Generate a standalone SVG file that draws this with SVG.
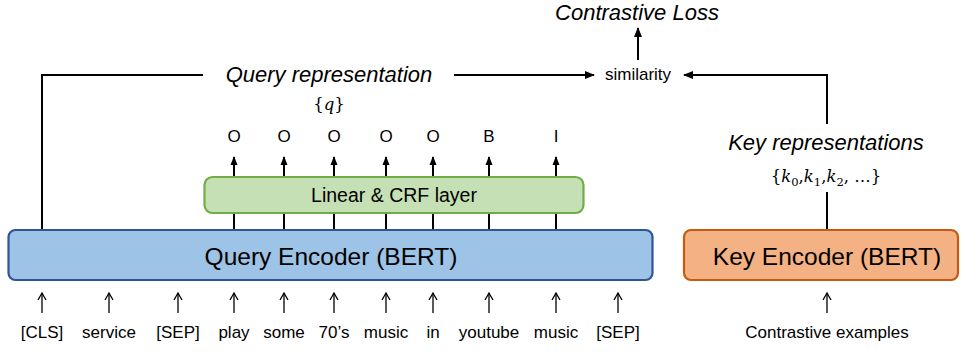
<svg xmlns="http://www.w3.org/2000/svg" width="963" height="354" viewBox="0 0 963 354">
<style>
.t{font-family:"Liberation Sans",Arial,sans-serif;fill:#000}
.it{font-style:italic;font-size:22px}
.tok{font-size:17px}
.lbl{font-size:17px}
.math{font-family:"DejaVu Serif","Liberation Serif",serif;font-size:16.5px;fill:#000}
.c{fill:none;stroke:#000;stroke-width:2}
.thin{fill:none;stroke:#000;stroke-width:1.3}
</style>
<defs>
<marker id="ah" markerUnits="userSpaceOnUse" markerWidth="10" markerHeight="10" refX="9" refY="5" orient="auto">
<path d="M0,1 L10,5 L0,9 z" fill="#000"/>
</marker>
<marker id="ahs" markerUnits="userSpaceOnUse" markerWidth="10" markerHeight="10" refX="8" refY="5" orient="auto">
<path d="M0,1.5 L9,5 L0,8.5 z" fill="#000"/>
</marker>
<marker id="ao" markerUnits="userSpaceOnUse" markerWidth="10" markerHeight="10" refX="7" refY="5" orient="auto">
<path d="M0,1 L7,5 L0,9" fill="none" stroke="#000" stroke-width="1.3"/>
</marker>
</defs>

<g id="connectors">
<polyline class="c" points="42,230 42,75 203,75"/>
<line class="c" x1="454" y1="75" x2="594" y2="75" marker-end="url(#ah)"/>
<line class="c" x1="827" y1="230" x2="827" y2="192"/>
<polyline class="c" points="827,124 827,75 684,75" marker-end="url(#ah)"/>
<line class="c" x1="638" y1="60" x2="638" y2="28" marker-end="url(#ah)"/>
<g class="c">
<line x1="234" y1="230" x2="234" y2="213"/>
<line x1="284" y1="230" x2="284" y2="213"/>
<line x1="334" y1="230" x2="334" y2="213"/>
<line x1="386" y1="230" x2="386" y2="213"/>
<line x1="433" y1="230" x2="433" y2="213"/>
<line x1="489" y1="230" x2="489" y2="213"/>
<line x1="556" y1="230" x2="556" y2="213"/>
</g>
<g class="c">
<line x1="234" y1="177" x2="234" y2="157" marker-end="url(#ahs)"/>
<line x1="284" y1="177" x2="284" y2="157" marker-end="url(#ahs)"/>
<line x1="334" y1="177" x2="334" y2="157" marker-end="url(#ahs)"/>
<line x1="386" y1="177" x2="386" y2="157" marker-end="url(#ahs)"/>
<line x1="433" y1="177" x2="433" y2="157" marker-end="url(#ahs)"/>
<line x1="489" y1="177" x2="489" y2="157" marker-end="url(#ahs)"/>
<line x1="556" y1="177" x2="556" y2="157" marker-end="url(#ahs)"/>
</g>
<g class="thin">
<line x1="42" y1="313" x2="42" y2="293" marker-end="url(#ao)"/>
<line x1="109" y1="313" x2="109" y2="293" marker-end="url(#ao)"/>
<line x1="178" y1="313" x2="178" y2="293" marker-end="url(#ao)"/>
<line x1="234" y1="313" x2="234" y2="293" marker-end="url(#ao)"/>
<line x1="284" y1="313" x2="284" y2="293" marker-end="url(#ao)"/>
<line x1="334" y1="313" x2="334" y2="293" marker-end="url(#ao)"/>
<line x1="386" y1="313" x2="386" y2="293" marker-end="url(#ao)"/>
<line x1="433" y1="313" x2="433" y2="293" marker-end="url(#ao)"/>
<line x1="489" y1="313" x2="489" y2="293" marker-end="url(#ao)"/>
<line x1="556" y1="313" x2="556" y2="293" marker-end="url(#ao)"/>
<line x1="618" y1="313" x2="618" y2="293" marker-end="url(#ao)"/>
<line x1="827" y1="313" x2="827" y2="293" marker-end="url(#ao)"/>
</g>
</g>

<g id="query-encoder">
<rect x="8.5" y="230" width="644" height="50" rx="7" fill="#9DC3E6" stroke="#2F5597" stroke-width="2.2"/>
<text class="t" x="331" y="265" font-size="24.5" text-anchor="middle">Query Encoder (BERT)</text>
</g>

<g id="crf-layer">
<rect x="204.5" y="177" width="379" height="36" rx="8" fill="#C5E0B4" stroke="#70AD47" stroke-width="2.2"/>
<text class="t" x="394" y="202" font-size="19.5" text-anchor="middle">Linear &amp; CRF layer</text>
</g>

<g id="key-encoder">
<rect x="684" y="230" width="274" height="50" rx="7" fill="#F4B183" stroke="#C55A11" stroke-width="2.2"/>
<text class="t" x="827" y="265" font-size="24.5" text-anchor="middle">Key Encoder (BERT)</text>
</g>

<g id="query-representation">
<text class="t it" x="329" y="82" text-anchor="middle">Query representation</text>
<text class="math" x="329" y="110" text-anchor="middle">{<tspan font-style="italic">q</tspan>}</text>
</g>

<g id="similarity">
<text class="t lbl" x="638" y="80" text-anchor="middle">similarity</text>
</g>

<g id="contrastive-loss">
<text class="t it" x="637" y="20" text-anchor="middle">Contrastive Loss</text>
</g>

<g id="key-representations">
<text class="t it" x="826" y="150" text-anchor="middle">Key representations</text>
<text class="math" x="826" y="182" text-anchor="middle">{<tspan font-style="italic">k</tspan><tspan font-size="11.5" dy="4">0</tspan><tspan dy="-4">,</tspan><tspan font-style="italic">k</tspan><tspan font-size="11.5" dy="4">1</tspan><tspan dy="-4">,</tspan><tspan font-style="italic">k</tspan><tspan font-size="11.5" dy="4">2</tspan><tspan dy="-4">, …}</tspan></text>
</g>

<g id="tags">
<text class="t lbl" x="234" y="142" text-anchor="middle">O</text>
<text class="t lbl" x="284" y="142" text-anchor="middle">O</text>
<text class="t lbl" x="334" y="142" text-anchor="middle">O</text>
<text class="t lbl" x="386" y="142" text-anchor="middle">O</text>
<text class="t lbl" x="433" y="142" text-anchor="middle">O</text>
<text class="t lbl" x="489" y="142" text-anchor="middle">B</text>
<text class="t lbl" x="556" y="142" text-anchor="middle">I</text>
</g>

<g id="tokens">
<text class="t tok" x="42" y="338" text-anchor="middle">[CLS]</text>
<text class="t tok" x="109" y="338" text-anchor="middle">service</text>
<text class="t tok" x="178" y="338" text-anchor="middle">[SEP]</text>
<text class="t tok" x="234" y="338" text-anchor="middle">play</text>
<text class="t tok" x="284" y="338" text-anchor="middle">some</text>
<text class="t tok" x="334" y="338" text-anchor="middle">70’s</text>
<text class="t tok" x="386" y="338" text-anchor="middle">music</text>
<text class="t tok" x="433" y="338" text-anchor="middle">in</text>
<text class="t tok" x="489" y="338" text-anchor="middle">youtube</text>
<text class="t tok" x="556" y="338" text-anchor="middle">music</text>
<text class="t tok" x="618" y="338" text-anchor="middle">[SEP]</text>
</g>

<g id="contrastive-examples">
<text class="t tok" x="827" y="338" text-anchor="middle">Contrastive examples</text>
</g>
</svg>
